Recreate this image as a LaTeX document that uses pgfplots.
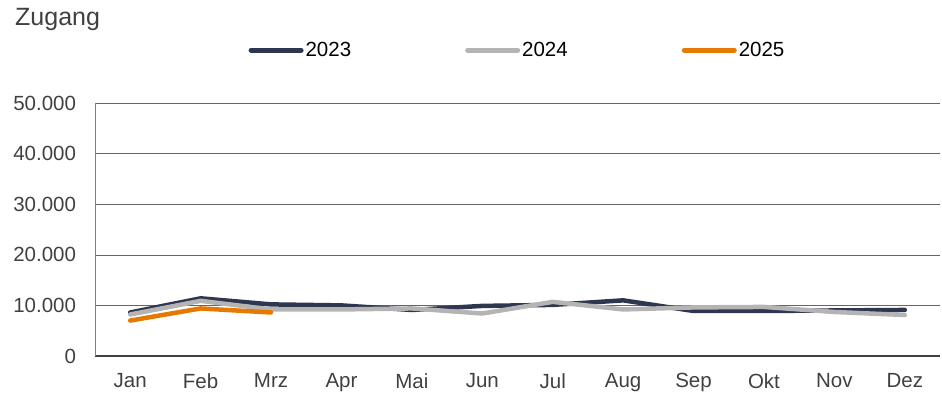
\documentclass[border=0pt]{standalone}
\usepackage{pgfplots}
\pgfplotsset{compat=1.18}
\usepackage{fontspec}
\setmainfont{Liberation Sans}
\definecolor{c23}{HTML}{2E3650}
\definecolor{c24}{HTML}{B4B4B4}
\definecolor{c25}{HTML}{E67A00}
\definecolor{txt}{HTML}{404040}
\begin{document}
\begin{tikzpicture}[x=1pt,y=1pt]
\useasboundingbox (0,0) rectangle (942,397);
\node[anchor=base west, font=\fontsize{25}{30}\selectfont, text=txt, inner sep=0pt] at (15,371) {Zugang};
\begin{axis}[
  at={(95pt,41pt)}, anchor=south west,
  scale only axis, width=845pt, height=253pt,
  xmin=-0.5, xmax=11.5, ymin=0, ymax=50000,
  xtick={0,...,11},
  xticklabels={Jan,Feb,Mrz,Apr,Mai,Jun,Jul,Aug,Sep,Okt,Nov,Dez},
  ytick={0,10000,20000,30000,40000,50000},
  scaled y ticks=false,
  /pgf/number format/.cd, 1000 sep={.}, assume math mode=true, /pgfplots/.cd,
  ticklabel style={font=\fontsize{20.5}{24}\selectfont, text=txt},
  major tick length=0pt,
  axis lines=left,
  axis line style={-},
  x axis line style={draw=txt, line width=1.5pt},
  y axis line style={draw=gray, line width=0.8pt},
  ymajorgrids, grid style={draw=txt!80, line width=0.6pt},
  xticklabel style={yshift=-14pt},
  yticklabel style={xshift=-15.5pt},
  legend columns=3,
  legend style={at={(0.5,1.209)}, anchor=center, draw=none, fill=none,
    font=\fontsize{20.5}{24}\selectfont, text=black,
    /tikz/every even column/.append style={column sep=112pt}},
  legend image code/.code={\draw[line width=5pt, line cap=round] (0pt,0pt) -- (50pt,0pt);},
  every axis plot/.append style={line width=4.5pt, line join=round, line cap=round},
]
\addplot[c23] coordinates {(0,8600) (1,11400) (2,10200) (3,10000) (4,9100) (5,9900) (6,10100) (7,11000) (8,8900) (9,8900) (10,9000) (11,9100)};
\addlegendentry{2023}
\addplot[c24] coordinates {(0,8200) (1,10900) (2,9200) (3,9200) (4,9400) (5,8400) (6,10700) (7,9200) (8,9600) (9,9700) (10,8700) (11,8100)};
\addlegendentry{2024}
\addplot[c25] coordinates {(0,7000) (1,9400) (2,8600)};
\addlegendentry{2025}
\end{axis}
\end{tikzpicture}
\end{document}
